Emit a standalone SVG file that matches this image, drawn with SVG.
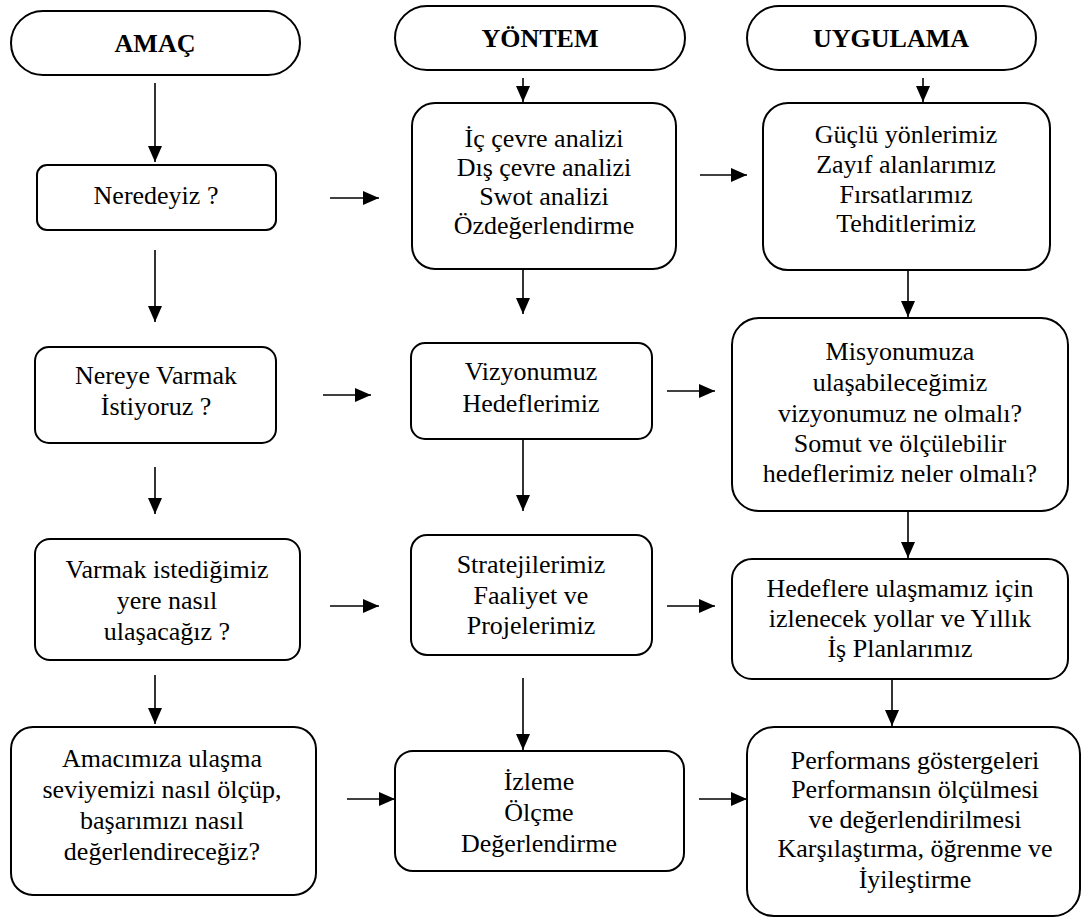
<svg xmlns="http://www.w3.org/2000/svg" width="1081" height="918" viewBox="0 0 1081 918">
  <defs>
    <marker id="arrow" markerUnits="userSpaceOnUse" markerWidth="17" markerHeight="16" refX="16" refY="7" orient="auto">
      <path d="M0,0 L16,7 L0,14 Z" fill="#000"/>
    </marker>
  </defs>
  <style>
    .box { fill: #fff; stroke: #000; stroke-width: 2; }
    text { font-family: 'Liberation Serif', 'Times New Roman', serif; font-size: 26px; font-weight: 400; fill: #000; text-anchor: middle; }
    .head { font-weight: bold; }
    .conn { stroke: #000; stroke-width: 1.6; fill: none; marker-end: url(#arrow); }
  </style>
  <rect width="1081" height="918" fill="#fff"/>

  <!-- column headers -->
  <g id="amac">
    <rect class="box" x="11" y="11" width="289" height="64" rx="32" ry="32"/>
    <text class="head" x="155" y="52">AMAÇ</text>
  </g>
  <g id="yontem">
    <rect class="box" x="395" y="6" width="290" height="64" rx="32" ry="32"/>
    <text class="head" x="540" y="47">YÖNTEM</text>
  </g>
  <g id="uygulama">
    <rect class="box" x="747" y="6" width="289" height="64" rx="32" ry="32"/>
    <text class="head" x="891" y="47">UYGULAMA</text>
  </g>

  <!-- AMAÇ column -->
  <g id="neredeyiz">
    <rect class="box" x="37" y="165" width="239" height="65" rx="10" ry="10"/>
    <text x="156" y="204">Neredeyiz ?</text>
  </g>
  <g id="nereye">
    <rect class="box" x="35" y="347" width="241" height="96" rx="14" ry="14"/>
    <text x="156" y="384">Nereye Varmak</text>
    <text x="156" y="415">İstiyoruz ?</text>
  </g>
  <g id="varmak">
    <rect class="box" x="35" y="539" width="265" height="121" rx="15" ry="15"/>
    <text x="167" y="578">Varmak istediğimiz</text>
    <text x="167" y="609">yere nasıl</text>
    <text x="167" y="640">ulaşacağız ?</text>
  </g>
  <g id="amacimiza">
    <rect class="box" x="11" y="727" width="305" height="168" rx="22" ry="22"/>
    <text x="162" y="767">Amacımıza ulaşma</text>
    <text x="162" y="798">seviyemizi nasıl ölçüp,</text>
    <text x="162" y="829">başarımızı nasıl</text>
    <text x="162" y="860">değerlendireceğiz?</text>
  </g>

  <!-- YÖNTEM column -->
  <g id="analiz">
    <rect class="box" x="412" y="103" width="264" height="166" rx="23" ry="23"/>
    <text x="544" y="147">İç çevre analizi</text>
    <text x="544" y="176">Dış çevre analizi</text>
    <text x="544" y="205">Swot analizi</text>
    <text x="544" y="234">Özdeğerlendirme</text>
  </g>
  <g id="vizyon">
    <rect class="box" x="411" y="343" width="241" height="96" rx="14" ry="14"/>
    <text x="531" y="380">Vizyonumuz</text>
    <text x="531" y="412">Hedeflerimiz</text>
  </g>
  <g id="strateji">
    <rect class="box" x="411" y="535" width="241" height="120" rx="16" ry="16"/>
    <text x="531" y="573">Stratejilerimiz</text>
    <text x="531" y="604">Faaliyet ve</text>
    <text x="531" y="634">Projelerimiz</text>
  </g>
  <g id="izleme">
    <rect class="box" x="395" y="751" width="289" height="120" rx="18" ry="18"/>
    <text x="539" y="790">İzleme</text>
    <text x="539" y="821">Ölçme</text>
    <text x="539" y="852">Değerlendirme</text>
  </g>

  <!-- UYGULAMA column -->
  <g id="swot">
    <rect class="box" x="763" y="103" width="287" height="167" rx="25" ry="25"/>
    <text x="906" y="143">Güçlü yönlerimiz</text>
    <text x="906" y="173">Zayıf alanlarımız</text>
    <text x="906" y="203">Fırsatlarımız</text>
    <text x="906" y="232">Tehditlerimiz</text>
  </g>
  <g id="misyon">
    <rect class="box" x="732" y="318" width="336" height="193" rx="27" ry="27"/>
    <text x="900" y="360">Misyonumuza</text>
    <text x="900" y="391">ulaşabileceğimiz</text>
    <text x="900" y="422">vizyonumuz ne olmalı?</text>
    <text x="900" y="452">Somut ve ölçülebilir</text>
    <text x="900" y="482">hedeflerimiz neler olmalı?</text>
  </g>
  <g id="planlar">
    <rect class="box" x="732" y="559" width="336" height="120" rx="20" ry="20"/>
    <text x="900" y="597">Hedeflere ulaşmamız için</text>
    <text x="900" y="627">izlenecek yollar ve Yıllık</text>
    <text x="900" y="657">İş Planlarımız</text>
  </g>
  <g id="performans">
    <rect class="box" x="747" y="727" width="333" height="189" rx="27" ry="27"/>
    <text x="915" y="769">Performans göstergeleri</text>
    <text x="915" y="798">Performansın ölçülmesi</text>
    <text x="915" y="828">ve değerlendirilmesi</text>
    <text x="915" y="857">Karşılaştırma, öğrenme ve</text>
    <text x="915" y="888">İyileştirme</text>
  </g>

  <!-- connectors -->
  <g id="connectors">
    <!-- vertical flow, AMAÇ column -->
    <line class="conn" x1="155" y1="83" x2="155" y2="162"/>
    <line class="conn" x1="155" y1="250" x2="155" y2="322"/>
    <line class="conn" x1="155" y1="467" x2="155" y2="514"/>
    <line class="conn" x1="155" y1="675" x2="155" y2="724"/>
    <!-- vertical flow, YÖNTEM column -->
    <line class="conn" x1="523" y1="78" x2="523" y2="102"/>
    <line class="conn" x1="523" y1="269" x2="523" y2="314"/>
    <line class="conn" x1="523" y1="439" x2="523" y2="511"/>
    <line class="conn" x1="523" y1="678" x2="523" y2="750"/>
    <!-- vertical flow, UYGULAMA column -->
    <line class="conn" x1="923" y1="78" x2="923" y2="102"/>
    <line class="conn" x1="908" y1="270" x2="908" y2="317"/>
    <line class="conn" x1="908" y1="511" x2="908" y2="558"/>
    <line class="conn" x1="892" y1="679" x2="892" y2="726"/>
    <!-- horizontal links, row 1 -->
    <line class="conn" x1="330" y1="198" x2="379" y2="198"/>
    <line class="conn" x1="700" y1="175" x2="747" y2="175"/>
    <!-- row 2 -->
    <line class="conn" x1="323" y1="395" x2="371" y2="395"/>
    <line class="conn" x1="667" y1="391" x2="715" y2="391"/>
    <!-- row 3 -->
    <line class="conn" x1="330" y1="606" x2="379" y2="606"/>
    <line class="conn" x1="667" y1="606" x2="715" y2="606"/>
    <!-- row 4 -->
    <line class="conn" x1="347" y1="799" x2="395" y2="799"/>
    <line class="conn" x1="699" y1="799" x2="747" y2="799"/>
  </g>
</svg>
